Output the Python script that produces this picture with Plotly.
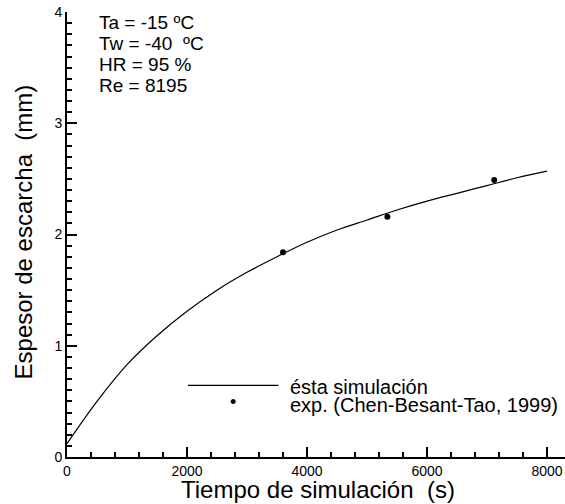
import plotly.graph_objects as go

# simulated frost thickness (mm) vs time (s)
sim_t = [0, 500, 1000, 1500, 2000, 2500, 3000, 3500, 4000,
         4500, 5000, 5500, 6000, 6500, 7000, 7500, 8000]
sim_e = [0.12, 0.50, 0.83, 1.09, 1.31, 1.50, 1.66, 1.80, 1.93,
         2.04, 2.13, 2.22, 2.30, 2.37, 2.44, 2.51, 2.57]

# experimental points (Chen-Besant-Tao, 1999)
exp_t = [3600, 5340, 7120]
exp_e = [1.84, 2.16, 2.49]

conditions = ['Ta = -15 ºC', 'Tw = -40\u00a0 ºC', 'HR = 95 %', 'Re = 8195']
legend_labels = ['ésta simulación', 'exp. (Chen-Besant-Tao, 1999)']
x_title = 'Tiempo de simulación\u00a0 (s)'
y_title = 'Espesor de escarcha\u00a0 (mm)'

FONT = 'Liberation Sans, Arial, sans-serif'

fig = go.Figure()
fig.add_trace(go.Scatter(x=sim_t, y=sim_e, mode='lines', line=dict(color='black', width=1.2, shape='spline'),
                         name=legend_labels[0]))
fig.add_trace(go.Scatter(x=exp_t, y=exp_e, mode='markers', marker=dict(color='black', size=6),
                         name=legend_labels[1]))

# condition labels, top left
for txt, yy in zip(conditions, [0.977, 0.930, 0.881, 0.834]):
    fig.add_annotation(x=0.06, y=yy, xref='paper', yref='paper', text=txt, showarrow=False,
                       xanchor='left', yanchor='middle', font=dict(size=19, color='black', family=FONT))

# hand-made legend: long line sample drawn as a headless arrow, dot as a bullet glyph
fig.add_annotation(x=0.243, y=0.161, xref='paper', yref='paper', text='', showarrow=True,
                   arrowhead=0, arrowwidth=1.2, arrowcolor='black', ax=92, ay=0)
fig.add_annotation(x=0.333, y=0.123, xref='paper', yref='paper', text='•', showarrow=False,
                   xanchor='center', yanchor='middle', font=dict(size=18, color='black', family=FONT))
for txt, yy in zip(legend_labels, [0.157, 0.117]):
    fig.add_annotation(x=0.444, y=yy, xref='paper', yref='paper', text=txt, showarrow=False,
                       xanchor='left', yanchor='middle', font=dict(size=20, color='black', family=FONT))

# axis titles placed as annotations in the margins
fig.add_annotation(x=0.504, y=-0.072, xref='paper', yref='paper', text=x_title, showarrow=False,
                   xanchor='center', yanchor='middle', font=dict(size=24, color='black', family=FONT))
fig.add_annotation(x=-0.088, y=0.505, xref='paper', yref='paper', text=y_title, showarrow=False, textangle=-90,
                   xanchor='center', yanchor='middle', font=dict(size=24, color='black', family=FONT))

base = dict(showline=True, linecolor='black', linewidth=2, ticks='inside', ticklen=10, tickwidth=2,
            tickcolor='black', showgrid=False, zeroline=False, tickmode='linear', tick0=0,
            tickfont=dict(size=14, color='black', family=FONT))

fig.update_xaxes(range=[0, 8300], dtick=2000,
                 minor=dict(ticks='inside', ticklen=5, tickcolor='black', dtick=400), **base)
fig.update_yaxes(range=[0, 4], dtick=1,
                 minor=dict(ticks='inside', ticklen=5, tickcolor='black', dtick=0.1), **base)

fig.update_layout(width=565, height=504, template='none', showlegend=False, plot_bgcolor='white',
                  margin=dict(l=67, r=0, t=12, b=47),
                  font=dict(family=FONT, color='black'))

# drop the browser's default body margin so the figure sits at the page corner
fig.write_html('out.html', post_script="document.body.style.margin='0';", config={'displayModeBar': False})
